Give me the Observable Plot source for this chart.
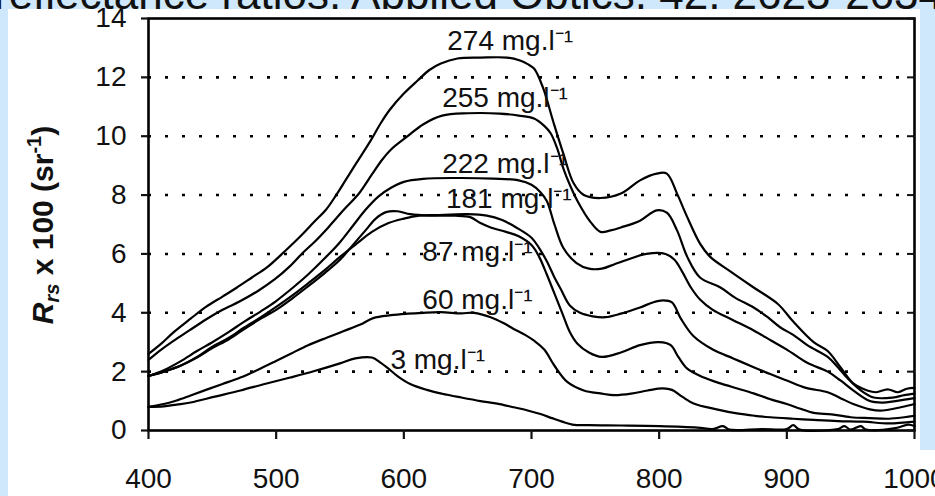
<!DOCTYPE html>
<html><head><meta charset="utf-8">
<script src="https://cdn.jsdelivr.net/npm/d3@7"></script>
<script src="https://cdn.jsdelivr.net/npm/@observablehq/plot@0.6"></script>
<style>
html,body{margin:0;padding:0;}
body{width:935px;height:496px;overflow:hidden;background:#cfe8fc;position:relative;font-family:'Liberation Sans',Arial,sans-serif;}
#title{position:absolute;left:-6px;top:-31px;font-size:44px;line-height:50px;white-space:nowrap;color:#111;}
#panel{position:absolute;left:8px;top:9px;width:912px;height:487px;background:#fff;}
#corner{position:absolute;left:920px;top:450px;width:15px;height:46px;background:#fff;}
#chart{position:absolute;left:8px;top:8px;}
#chart svg{overflow:visible;}
</style></head>
<body>
<div id="title">reflectance ratios. Applied Optics, 42, 2623-2634.</div>
<div id="panel"></div>
<div id="corner"></div>
<div id="chart"></div>
<script>
const xTicks = [400, 500, 600, 700, 800, 900, 1000];
const yTicks = [0, 2, 4, 6, 8, 10, 12, 14];
const gridVals = [2, 4, 6, 8, 10, 12];

const s274 = [[400,2.6],[410,2.95],[420,3.35],[433,3.8],[445,4.2],[458,4.55],[469,4.85],[481,5.2],[493,5.55],[507,6.1],[519,6.6],[530,7.1],[539,7.5],[547,8.0],[555,8.55],[563,9.1],[574,9.85],[582,10.45],[589,10.9],[600,11.45],[611,11.9],[620,12.25],[629,12.47],[642,12.64],[660,12.67],[681,12.67],[691,12.57],[697,12.45],[702,12.3],[709,11.65],[717,10.5],[725,9.4],[733,8.4],[741,8.0],[754,7.9],[770,8.05],[785,8.5],[798,8.73],[806,8.73],[814,8.05],[822,7.25],[832,6.35],[840,5.9],[856,5.4],[874,4.86],[893,4.3],[905,3.7],[921,3.0],[932,2.7],[942,2.15],[952,1.6],[963,1.36],[970,1.3],[979,1.4],[987,1.3],[994,1.42],[1000,1.45]];
const s255 = [[400,2.4],[410,2.75],[419,3.03],[432,3.4],[445,3.77],[458,4.1],[472,4.4],[486,4.75],[499,5.14],[510,5.55],[520,6.0],[531,6.45],[541,6.91],[553,7.5],[565,8.06],[575,8.7],[583,9.2],[590,9.55],[603,10.0],[615,10.4],[630,10.7],[650,10.78],[675,10.77],[690,10.7],[702,10.6],[710,10.35],[715,10.1],[720,9.6],[725,8.9],[730,8.35],[736,7.8],[746,7.1],[754,6.75],[762,6.8],[770,6.9],[785,7.13],[798,7.48],[806,7.4],[814,6.8],[822,5.9],[832,5.2],[848,4.86],[860,4.5],[874,4.18],[885,3.85],[895,3.5],[905,3.25],[916,2.9],[932,2.5],[940,2.15],[947,1.8],[958,1.36],[968,1.12],[983,1.12],[992,1.2],[1000,1.25]];
const s222 = [[400,1.85],[412,2.05],[425,2.35],[438,2.7],[450,3.0],[463,3.35],[475,3.7],[488,4.05],[500,4.4],[513,4.85],[525,5.3],[538,5.85],[550,6.4],[560,6.95],[570,7.5],[580,7.95],[590,8.25],[600,8.45],[615,8.55],[640,8.58],[670,8.56],[690,8.5],[700,8.35],[707,8.1],[712,7.8],[718,7.0],[725,6.2],[735,5.7],[745,5.5],[755,5.5],[765,5.65],[775,5.8],[790,6.0],[805,6.0],[812,5.8],[818,5.4],[825,4.85],[832,4.45],[842,4.1],[858,3.75],[874,3.4],[888,3.05],[900,2.75],[916,2.3],[932,2.0],[942,1.7],[952,1.36],[965,1.0],[975,0.95],[985,1.0],[1000,1.1]];
const s181 = [[400,1.85],[412,2.0],[425,2.2],[438,2.5],[450,2.85],[463,3.15],[475,3.5],[488,3.85],[500,4.2],[513,4.6],[525,5.0],[538,5.45],[550,5.9],[563,6.35],[575,6.75],[588,7.05],[600,7.2],[612,7.3],[625,7.32],[650,7.35],[665,7.3],[677,7.15],[688,6.9],[700,6.55],[706,6.2],[712,5.75],[718,5.2],[723,4.8],[730,4.25],[738,4.0],[748,3.88],[758,3.85],[770,3.97],[785,4.18],[795,4.35],[803,4.42],[810,4.35],[817,3.8],[827,3.2],[842,2.75],[858,2.45],[874,2.15],[888,1.9],[900,1.7],[915,1.45],[932,1.3],[942,1.1],[952,0.9],[965,0.72],[975,0.68],[990,0.8],[1000,0.9]];
const s87 = [[400,1.85],[412,2.0],[425,2.2],[438,2.48],[450,2.8],[463,3.1],[475,3.45],[488,3.8],[500,4.1],[513,4.5],[525,4.9],[538,5.35],[550,5.8],[560,6.3],[570,6.8],[578,7.2],[586,7.42],[595,7.45],[605,7.35],[620,7.3],[640,7.3],[652,7.25],[660,7.05],[668,6.9],[680,6.75],[690,6.6],[700,6.3],[706,5.9],[712,5.3],[718,4.65],[724,4.0],[730,3.35],[736,2.95],[745,2.65],[755,2.5],[770,2.65],[785,2.9],[800,3.0],[809,2.9],[815,2.5],[822,2.1],[835,1.8],[848,1.6],[862,1.42],[874,1.26],[888,1.05],[900,0.9],[910,0.75],[921,0.6],[935,0.55],[950,0.45],[965,0.42],[980,0.4],[992,0.45],[1000,0.5]];
const s60 = [[400,0.8],[412,0.9],[422,1.02],[433,1.19],[445,1.38],[458,1.58],[472,1.8],[485,2.05],[498,2.32],[511,2.6],[525,2.9],[540,3.16],[553,3.38],[566,3.6],[576,3.82],[590,3.92],[603,3.97],[615,4.0],[629,4.02],[645,3.98],[655,4.0],[668,3.85],[678,3.65],[686,3.45],[695,3.25],[702,3.05],[710,2.75],[718,2.2],[728,1.65],[741,1.36],[754,1.26],[765,1.2],[778,1.25],[791,1.36],[803,1.43],[810,1.38],[818,1.15],[827,0.92],[845,0.72],[861,0.58],[875,0.5],[887,0.45],[905,0.4],[921,0.36],[940,0.32],[960,0.3],[980,0.24],[1000,0.3]];
const s3 = [[400,0.8],[412,0.82],[422,0.88],[433,0.95],[452,1.15],[472,1.36],[491,1.58],[511,1.8],[530,2.02],[550,2.28],[562,2.45],[575,2.48],[582,2.3],[588,2.1],[595,1.85],[605,1.58],[618,1.38],[630,1.25],[645,1.12],[660,1.0],[672,0.92],[685,0.8],[697,0.68],[707,0.56],[716,0.42],[724,0.3],[732,0.2],[745,0.18],[770,0.17],[800,0.15],[830,0.1],[842,0.05],[850,0.15],[855,0.03],[880,0.05],[900,0.05],[905,0.18],[910,0.03],[940,0.05],[945,0.15],[950,0.03],[958,0.15],[962,0.03],[985,0.08],[995,0.2],[1000,0.15]];

const seriesNames = ["274", "255", "222", "181", "87", "60", "3"];
const seriesData = [s274, s255, s222, s181, s87, s60, s3];

const labelText = ["274 mg.l\u207B\u00B9", "255 mg.l\u207B\u00B9", "222 mg.l\u207B\u00B9", "181 mg.l\u207B\u00B9", "87 mg.l\u207B\u00B9", "60 mg.l\u207B\u00B9", "3 mg.l\u207B\u00B9"];
const labelX = [634, 630, 630, 633, 614.5, 614.5, 589.5];
const labelY = [13.25, 11.3, 9.07, 7.88, 6.05, 4.42, 2.38];

const rows = seriesData.flatMap((s, k) => s.map(([x, y]) => ({series: seriesNames[k], x, y})));
const labels = labelText.map((t, i) => ({t, x: labelX[i], y: labelY[i]}));

const chart = Plot.plot({
  width: 912, height: 488,
  marginLeft: 140, marginRight: 6, marginTop: 10, marginBottom: 66,
  style: {fontFamily: "'Liberation Sans', Arial, sans-serif", fontSize: "28px", color: "#111", background: "transparent", overflow: "visible"},
  x: {domain: [400, 1000], label: null},
  y: {domain: [0, 14], label: null},
  marks: [
    Plot.ruleY(gridVals, {stroke: "#000", strokeWidth: 2.6, strokeDasharray: "3,14"}),
    Plot.line(rows, {x: "x", y: "y", z: "series", stroke: "#000", strokeWidth: 2.2, strokeLinejoin: "round", curve: "catmull-rom"}),
    Plot.text(labels, {x: "x", y: "y", text: "t", textAnchor: "start", fill: "#111", fontSize: 28}),
    Plot.frame({stroke: "#000", strokeWidth: 2.6}),
    Plot.axisX({ticks: xTicks, tickSize: 9, tickPadding: 29, strokeWidth: 2.2, fontSize: 28, tickFormat: d => String(d)}),
    Plot.axisY({ticks: yTicks, tickSize: 7, tickPadding: 15, strokeWidth: 2.2, fontSize: 28, tickFormat: d => String(d)}),
    Plot.axisY({ticks: yTicks, anchor: "right", tickSize: -8, strokeWidth: 2, tickFormat: () => ""})
  ]
});
document.getElementById("chart").appendChild(chart);

const svg = d3.select(chart);
const lab = svg.append("text")
  .attr("transform", "translate(45,217) rotate(-90)")
  .attr("text-anchor", "middle")
  .attr("font-weight", "bold")
  .attr("font-size", 30)
  .attr("fill", "#111");
lab.append("tspan").attr("font-style", "italic").text("R");
lab.append("tspan").attr("font-style", "italic").attr("font-size", 20).attr("dy", 6).text("rs");
lab.append("tspan").attr("dy", -6).text(" x 100 (sr");
lab.append("tspan").attr("font-size", 20).attr("dy", -12).text("-1");
lab.append("tspan").attr("dy", 12).text(")");
</script>
</body></html>
